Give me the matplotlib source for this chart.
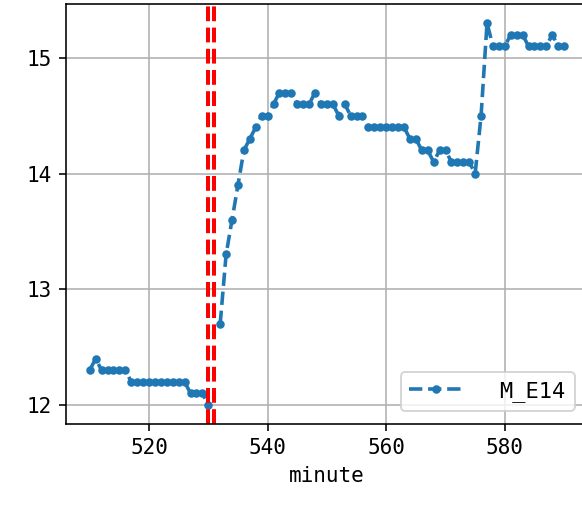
import numpy as np
import matplotlib
matplotlib.use("Agg")
import matplotlib.pyplot as plt

plt.rcParams["font.family"] = ["DejaVu Sans Mono"]

# minute readings of M_E14 (531 missing)
minutes = np.arange(510, 591)
values = [
    12.3, 12.4, 12.3, 12.3, 12.3, 12.3, 12.3,                    # 510-516
    12.2, 12.2, 12.2, 12.2, 12.2, 12.2, 12.2, 12.2, 12.2, 12.2,  # 517-526
    12.1, 12.1, 12.1, 12.0,                                      # 527-530
    np.nan, 12.7, 13.3, 13.6, 13.9, 14.2, 14.3, 14.4, 14.5, 14.5,  # 531-540
    14.6, 14.7, 14.7, 14.7, 14.6, 14.6, 14.6, 14.7, 14.6, 14.6,  # 541-550
    14.6, 14.5, 14.6, 14.5, 14.5, 14.5, 14.4, 14.4, 14.4, 14.4,  # 551-560
    14.4, 14.4, 14.4, 14.3, 14.3, 14.2, 14.2, 14.1, 14.2, 14.2,  # 561-570
    14.1, 14.1, 14.1, 14.1, 14.0, 14.5, 15.3, 15.1, 15.1, 15.1,  # 571-580
    15.2, 15.2, 15.2, 15.1, 15.1, 15.1, 15.1, 15.2, 15.1, 15.1,  # 581-590
]
values = np.array(values, dtype=float)
events = [530, 531]

fig = plt.figure(figsize=(582 / 144, 508 / 144), dpi=144)
ax = fig.add_axes([66 / 582, 84 / 508, 1 - 66 / 582 + 0.01, 420 / 508])

ax.plot(minutes, values, "--", marker=".", color="#1f77b4",
        linewidth=1.8, markersize=6.5, label="M_E14")
for e in events:
    ax.axvline(e, color="red", linestyle="--", linewidth=2)

ax.set_xlim(506, 594)
ax.set_ylim(11.835, 15.465)
ax.set_xticks([520, 540, 560, 580])
ax.set_yticks([12, 13, 14, 15])
ax.tick_params(labelsize=10.5)
ax.grid(True, color="#b0b0b0", linewidth=0.8)
ax.set_xlabel("minute", fontsize=10.5)
ax.legend(loc="lower right", fontsize=11, handlelength=2.4,
          handletextpad=1.7, borderaxespad=0.6)

fig.savefig("out.png", dpi=144)
